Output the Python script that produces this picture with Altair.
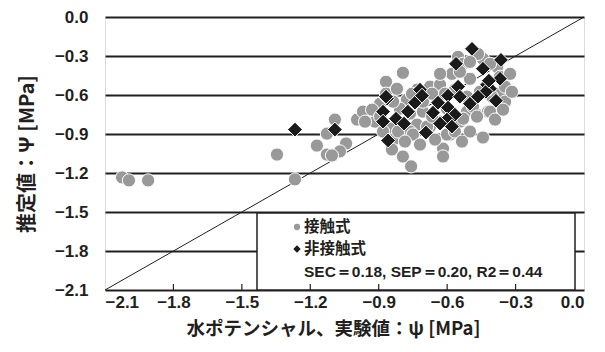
import altair as alt
import pandas as pd

# 接触式 (contact) — gray circles
contact_x = [-2.025, -1.995, -1.911, -1.346, -1.267, -1.171, -1.127, -1.127, -1.092, -1.043,
             -1.070, -1.105, -0.995, -0.969, -0.916, -0.868, -0.794, -0.868, -0.552, -0.530,
             -0.443, -0.579, -0.500, -0.381, -0.425, -0.368, -0.469, -0.421, -0.675, -0.631,
             -0.732, -0.776, -0.807, -0.763, -0.706, -0.732, -0.763, -0.675, -0.631, -0.544,
             -0.513, -0.487, -0.842, -0.881, -0.829, -0.842, -0.794, -0.758, -0.618, -0.618,
             -0.443, -0.587, -0.500, -0.530, -0.601, -0.644, -0.706, -0.837, -0.820, -0.815,
             -0.750, -0.601, -0.688, -0.469, -0.412, -0.368, -0.346, -0.465, -0.412, -0.500,
             -0.544, -0.456, -0.403, -0.346, -0.513, -0.566, -0.609, -0.666, -0.754, -0.894,
             -0.929, -0.960, -0.894, -0.785, -0.666, -0.566, -0.535, -0.390, -0.355, -0.719,
             -0.653, -0.631, -0.324, -0.316]
contact_y = [-1.234, -1.257, -1.257, -1.058, -1.249, -0.989, -1.058, -0.897, -0.789, -0.973,
             -1.034, -1.065, -0.789, -0.728, -0.805, -0.498, -0.429, -0.590, -0.307, -0.360,
             -0.322, -0.437, -0.475, -0.383, -0.521, -0.590, -0.751, -0.728, -0.536, -0.521,
             -0.559, -0.636, -0.705, -0.743, -0.728, -0.828, -0.881, -0.843, -0.805, -0.805,
             -0.728, -0.690, -0.858, -0.881, -0.935, -1.019, -1.073, -1.149, -1.012, -1.073,
             -0.927, -0.904, -0.881, -0.782, -0.705, -0.628, -0.651, -0.651, -0.552, -0.881,
             -0.904, -0.904, -0.843, -0.766, -0.728, -0.460, -0.536, -0.284, -0.360, -0.345,
             -0.421, -0.575, -0.613, -0.651, -0.613, -0.559, -0.590, -0.590, -0.590, -0.667,
             -0.713, -0.805, -0.766, -0.958, -0.766, -0.881, -0.958, -0.789, -0.713, -0.981,
             -0.943, -0.437, -0.437, -0.575]

# 非接触式 (non-contact) — black diamonds
noncontact_x = [-0.491, -0.364, -0.561, -0.443, -0.368, -0.425, -0.412, -0.552, -0.719, -0.864,
                -0.741, -0.710, -0.596, -0.544, -0.430, -0.386, -0.500, -0.640, -0.596, -0.662,
                -0.566, -0.601, -0.579, -0.881, -0.824, -0.789, -0.881, -0.693, -0.859, -1.092,
                -1.267, -0.868, -0.772, -0.631, -0.465, -0.417]
noncontact_y = [-0.245, -0.330, -0.360, -0.398, -0.475, -0.521, -0.552, -0.536, -0.559, -0.628,
                -0.659, -0.605, -0.605, -0.613, -0.575, -0.644, -0.667, -0.659, -0.697, -0.736,
                -0.751, -0.789, -0.843, -0.728, -0.782, -0.820, -0.805, -0.889, -0.950, -0.866,
                -0.866, -0.613, -0.728, -0.820, -0.613, -0.490]

ticks = [-2.1, -1.8, -1.5, -1.2, -0.9, -0.6, -0.3, 0.0]
diag = [-2.1, 0.0]
legend_labels = ["接触式", "非接触式"]
stats_text = "SEC＝0.18, SEP＝0.20, R2＝0.44"
x_title = "水ポテンシャル、実験値：ψ [MPa]"
y_title = "推定値：Ψ [MPa]"

W, H = 479, 273
INK = "#231f20"
GRAY = "#999999"
JP = "Noto Sans CJK JP"
NUM = "Liberation Sans"

df_c = pd.DataFrame({"x": contact_x, "y": contact_y})
df_n = pd.DataFrame({"x": noncontact_x, "y": noncontact_y})
df_d = pd.DataFrame({"x": diag, "y": diag})
df_t = pd.DataFrame({"x": ticks[1:-1]})
df_one = pd.DataFrame({"k": [0]})

xs = alt.Scale(domain=[-2.1, 0.0], nice=False, zero=False)
ys = alt.Scale(domain=[-2.1, 0.0], nice=False, zero=False)

xaxis = alt.Axis(values=ticks, format=".1f", grid=False, ticks=False, domain=False,
                 labelPadding=4, labelFont=NUM, labelFontSize=17, labelFontWeight="bold",
                 labelColor=INK, title=x_title, titleFont=JP, titleFontSize=18.5,
                 titleFontWeight="bold", titleColor=INK, titlePadding=9, titleX=228)
yaxis = alt.Axis(values=ticks, format=".1f", grid=True, gridColor=INK, gridWidth=2,
                 gridOpacity=1, ticks=False, domain=False, labelPadding=17,
                 labelFont=NUM, labelFontSize=17, labelFontWeight="bold", labelColor=INK,
                 title=y_title, titleFont=JP, titleFontSize=20, titleFontWeight="bold",
                 titleColor=INK, titlePadding=17)

X = alt.X("x:Q", scale=xs, axis=xaxis)
Y = alt.Y("y:Q", scale=ys, axis=yaxis)

line = alt.Chart(df_d).mark_line(color=INK, strokeWidth=1).encode(x=X, y=Y)

circles = alt.Chart(df_c).mark_point(shape="circle", filled=True, size=175, fill=GRAY,
                                     stroke="white", strokeWidth=1, opacity=1).encode(x=X, y=Y)

diamonds = alt.Chart(df_n).mark_point(shape="diamond", filled=True, size=220, fill="#1a1a1a",
                                      stroke="white", strokeWidth=1, opacity=1).encode(x=X, y=Y)

box = alt.Chart(df_one).mark_rect(fill="white", stroke=INK, strokeWidth=1.5).encode(
    x=alt.value(152), x2=alt.value(470), y=alt.value(196), y2=alt.value(H))

leg_c = alt.Chart(df_one).mark_point(shape="circle", filled=True, size=40, fill=GRAY,
                                     opacity=1).encode(x=alt.value(192), y=alt.value(210))
leg_n = alt.Chart(df_one).mark_point(shape="diamond", filled=True, size=55, fill="#1a1a1a",
                                     opacity=1).encode(x=alt.value(192), y=alt.value(232))

txt_kw = dict(align="left", baseline="middle", font=JP, fontWeight="bold", color=INK)
t1 = alt.Chart(df_one).mark_text(fontSize=15.5, **txt_kw).encode(
    x=alt.value(199), y=alt.value(210), text=alt.value(legend_labels[0]))
t2 = alt.Chart(df_one).mark_text(fontSize=15.5, **txt_kw).encode(
    x=alt.value(199), y=alt.value(232), text=alt.value(legend_labels[1]))
t3 = alt.Chart(df_one).mark_text(fontSize=15.5, align="left", baseline="middle", font=NUM,
                                 fontWeight="bold", color=INK).encode(
    x=alt.value(199), y=alt.value(255), text=alt.value(stats_text))

tick_marks = alt.Chart(df_t).mark_rule(color=INK, strokeWidth=1.2).encode(
    x=alt.X("x:Q", scale=xs, axis=xaxis), y=alt.value(H), y2=alt.value(H - 6))

chart = alt.layer(line, circles, diamonds, box, leg_c, leg_n, t1, t2, t3, tick_marks).properties(
    width=W, height=H, autosize="none",
    padding={"left": 97, "top": 9, "right": 10, "bottom": 55}
).configure_view(stroke=INK, strokeWidth=2).configure(background="white")

chart.save("out.html", embed_options={"renderer": "svg", "actions": False})
